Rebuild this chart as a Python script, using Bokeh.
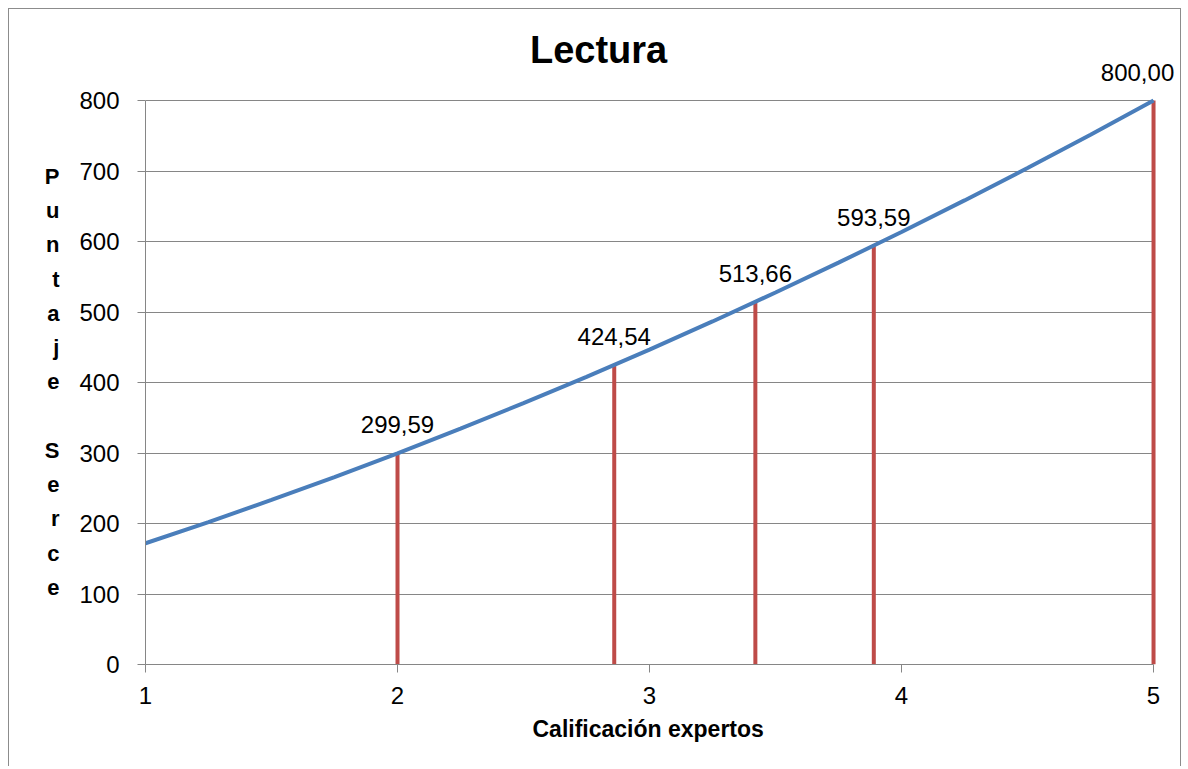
from bokeh.plotting import figure
from bokeh.models import Range1d, Label, LabelSet, ColumnDataSource, FixedTicker, Title
from bokeh.core.properties import value
from bokeh.embed import file_html
from bokeh.resources import INLINE

# ---- data ----
curve_x = [1.0, 1.25, 1.5, 1.75, 2.0, 2.25, 2.5, 2.75, 3.0, 3.25, 3.5, 3.75, 4.0, 4.25, 4.5, 4.75, 5.0]
curve_y = [172.0, 202.0, 233.4, 265.8, 299.59, 334.5, 370.8, 408.1, 446.7, 486.6, 527.7, 570.0, 613.5, 658.3, 704.3, 751.5, 800.0]

stem_x = [2.0, 2.86, 3.42, 3.89, 5.0]
stem_y = [299.59, 424.54, 513.66, 593.59, 800.00]

x_ticks = [1, 2, 3, 4, 5]
y_ticks = [0, 100, 200, 300, 400, 500, 600, 700, 800]

title_text = "Lectura"
x_title = "Calificación expertos"
y_title_lines = ["P", "u", "n", "t", "a", "j", "e", " ", "S", "e", "r", "c", "e"]

FONT = "Liberation Sans"
GRID = "#868686"
BLUE = "#4a7ebb"
RED = "#be4b48"

# frame is a little larger than the plotted area (room for title / end label)
X_END = 5.107
Y_TOP = 899.3

p = figure(width=1173, height=758, output_backend="svg", toolbar_location=None,
           x_range=Range1d(1, X_END), y_range=Range1d(0, Y_TOP),
           min_border_left=136, min_border_right=2, min_border_top=21, min_border_bottom=103,
           background_fill_color="white", border_fill_color="white")
p.styles = {"border-left": "1px solid #8c8c8c", "border-top": "1px solid #8c8c8c",
            "border-right": "1px solid #8c8c8c", "margin-left": "8px", "margin-top": "8px"}
p.outline_line_color = None

# axes
for ax in (p.xaxis[0], p.yaxis[0]):
    ax.axis_line_color = GRID
    ax.major_tick_line_color = GRID
    ax.major_tick_out = 8
    ax.major_tick_in = 0
    ax.minor_tick_line_color = None
    ax.major_label_text_font = FONT
    ax.major_label_text_font_size = "24px"
    ax.major_label_text_color = "black"

p.xaxis.ticker = FixedTicker(ticks=x_ticks)
p.yaxis.ticker = FixedTicker(ticks=y_ticks)
p.xaxis.bounds = (x_ticks[0], x_ticks[-1])
p.yaxis.bounds = (y_ticks[0], y_ticks[-1])
p.xaxis.major_label_standoff = 14
p.yaxis.major_label_standoff = 18

# x-axis title, centred under the plotted x extent (1..5)
p.add_layout(Title(text=x_title, align="left", offset=387, standoff=15,
                   text_font=FONT, text_font_size="23px", text_font_style="bold",
                   text_color="black"), "below")

# stacked y-axis title
ya = p.yaxis[0]
ya.axis_label = "\n".join([" ", " "] + y_title_lines)
ya.axis_label_text_font = FONT
ya.axis_label_text_font_size = "22px"
ya.axis_label_text_font_style = "bold"
ya.axis_label_text_color = "black"
ya.axis_label_text_line_height = 1.37
ya.axis_label_standoff = 17
ya.axis_label_text_align = "center"
if "axis_label_orientation" in ya.properties():
    ya.axis_label_orientation = "horizontal"

p.xgrid.grid_line_color = None
p.ygrid.grid_line_color = GRID
p.ygrid.grid_line_width = 1
g = p.ygrid[0]
if "cross_bounds" in g.properties():
    g.cross_bounds = (x_ticks[0], x_ticks[-1])

# stems and curve
p.segment(x0=stem_x, y0=[0] * len(stem_x), x1=stem_x, y1=stem_y, line_color=RED, line_width=4)
p.line(curve_x, curve_y, line_color=BLUE, line_width=4)

# data labels
labels = [f"{v:.2f}".replace(".", ",") for v in stem_y]
src_main = ColumnDataSource(dict(x=stem_x[:-1], y=stem_y[:-1], t=labels[:-1]))
src_last = ColumnDataSource(dict(x=stem_x[-1:], y=stem_y[-1:], t=labels[-1:]))
for src, xo in ((src_main, 0), (src_last, -16)):
    p.add_layout(LabelSet(x="x", y="y", text="t", source=src, x_offset=xo, y_offset=20,
                          text_align="center", text_baseline="alphabetic",
                          text_font=value(FONT), text_font_size=value("24px"),
                          text_color=value("black")))

# chart title (inside the frame's top margin)
p.add_layout(Label(x=2.798, y=871.0, text=title_text, text_align="center",
                   text_baseline="alphabetic", text_font=FONT, text_font_size="38px",
                   text_font_style="bold", text_color="black"))

open("out.html", "w").write(file_html(p, INLINE))
